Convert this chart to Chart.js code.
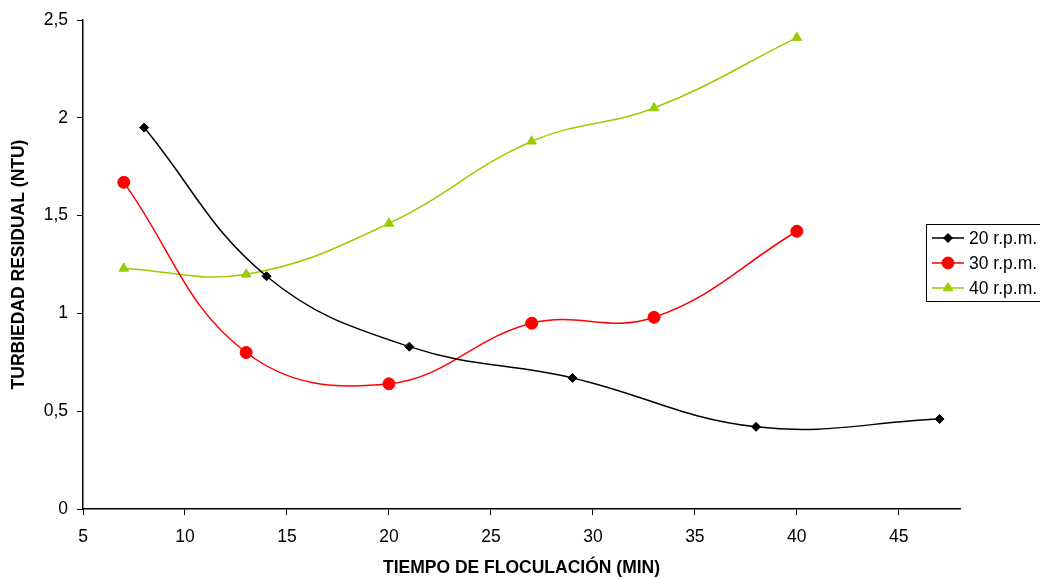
<!DOCTYPE html>
<html><head><meta charset="utf-8">
<script src="https://cdn.jsdelivr.net/npm/chart.js@4"></script>
<style>html,body{margin:0;padding:0;background:#fff}canvas{display:block}</style>
</head><body>
<canvas id="c" width="1040" height="579"></canvas>
<script>
const xTitle = 'TIEMPO DE FLOCULACIÓN (MIN)';
const yTitle = 'TURBIEDAD RESIDUAL (NTU)';
const seriesNames = ['20 r.p.m.', '30 r.p.m.', '40 r.p.m.'];
const x20 = [8, 14, 21, 29, 38, 47];
const y20 = [1.95, 1.19, 0.83, 0.67, 0.42, 0.46];
const x30 = [7, 13, 20, 27, 33, 40];
const y30 = [1.67, 0.80, 0.64, 0.95, 0.98, 1.42];
const x40 = [7, 13, 20, 27, 33, 40];
const y40 = [1.23, 1.20, 1.46, 1.88, 2.05, 2.41];
const xTicks = [5, 10, 15, 20, 25, 30, 35, 40, 45];
const yTicks = [0, 0.5, 1, 1.5, 2, 2.5];

const pts = (xs, ys) => xs.map((x, i) => ({x, y: ys[i]}));
const FONT = "'Liberation Sans', Arial, sans-serif";

const legendPlugin = {
  id: 'boxLegend',
  afterDraw(chart) {
    const ctx = chart.ctx;
    const x0 = 926.5, y0 = 224.5, w = 130, h = 77;
    ctx.save();
    ctx.strokeStyle = '#000'; ctx.lineWidth = 1;
    ctx.strokeRect(x0, y0, w, h);
    ctx.font = '17.5px ' + FONT;
    ctx.textBaseline = 'middle';
    chart.data.datasets.forEach((ds, i) => {
      const cy = 238 + i * 25;
      ctx.strokeStyle = ds.borderColor; ctx.lineWidth = 1.5;
      ctx.beginPath(); ctx.moveTo(932, cy); ctx.lineTo(964, cy); ctx.stroke();
      ctx.fillStyle = ds.pointBackgroundColor;
      ctx.strokeStyle = ds.pointBorderColor;
      ctx.lineWidth = 1;
      Chart.helpers.drawPoint(ctx, {pointStyle: ds.pointStyle, radius: ds.pointRadius, rotation: 0, borderWidth: 1}, 948, cy);
      ctx.fillStyle = '#000';
      ctx.fillText(ds.label, 969, cy + 1);
    });
    ctx.restore();
  }
};

new Chart(document.getElementById('c'), {
  type: 'scatter',
  data: {
    datasets: [
      {label: seriesNames[0], data: pts(x20, y20), showLine: true, tension: 0.4,
       borderColor: '#000', borderWidth: 1.5, pointStyle: 'rectRot', pointRadius: 4.5,
       pointBackgroundColor: '#000', pointBorderColor: '#000', pointBorderWidth: 1},
      {label: seriesNames[1], data: pts(x30, y30), showLine: true, tension: 0.4,
       borderColor: '#ff0000', borderWidth: 1.5, pointStyle: 'circle', pointRadius: 6,
       pointBackgroundColor: '#ff0000', pointBorderColor: '#ff0000', pointBorderWidth: 1},
      {label: seriesNames[2], data: pts(x40, y40), showLine: true, tension: 0.4,
       borderColor: '#99cc00', borderWidth: 1.5, pointStyle: 'triangle', pointRadius: 5.5,
       pointBackgroundColor: '#99cc00', pointBorderColor: '#99cc00', pointBorderWidth: 1}
    ]
  },
  options: {
    responsive: false, animation: false,
    layout: {padding: {left: 0, right: 80, top: 20, bottom: 0}},
    plugins: {legend: {display: false}, tooltip: {enabled: false}},
    scales: {
      x: {
        type: 'linear', min: 5, max: 48,
        afterBuildTicks: s => { s.ticks = xTicks.map(v => ({value: v})); },
        afterFit: s => { s.height = 70; },
        border: {display: true, color: '#000', width: 1.5},
        grid: {drawOnChartArea: false, drawTicks: true, tickLength: 6, color: '#000'},
        ticks: {color: '#000', font: {family: FONT, size: 17.5}, padding: 12, maxRotation: 0,
                callback: v => String(v)},
        title: {display: true, text: xTitle, color: '#000', font: {family: FONT, size: 17.5, weight: 'bold'}, padding: {top: 0, bottom: 0}}
      },
      y: {
        type: 'linear', min: 0, max: 2.5,
        afterBuildTicks: s => { s.ticks = yTicks.map(v => ({value: v})); },
        afterFit: s => { s.width = 83; },
        border: {display: true, color: '#000', width: 1.5},
        grid: {drawOnChartArea: false, drawTicks: true, tickLength: 6, color: '#000'},
        ticks: {color: '#000', font: {family: FONT, size: 17.5}, padding: 9,
                callback: v => String(v).replace('.', ',')},
        title: {display: true, text: yTitle, color: '#000', font: {family: FONT, size: 17.5, weight: 'bold'}, padding: {top: 9, bottom: 0}}
      }
    }
  },
  plugins: [legendPlugin]
});
</script>
</body></html>
